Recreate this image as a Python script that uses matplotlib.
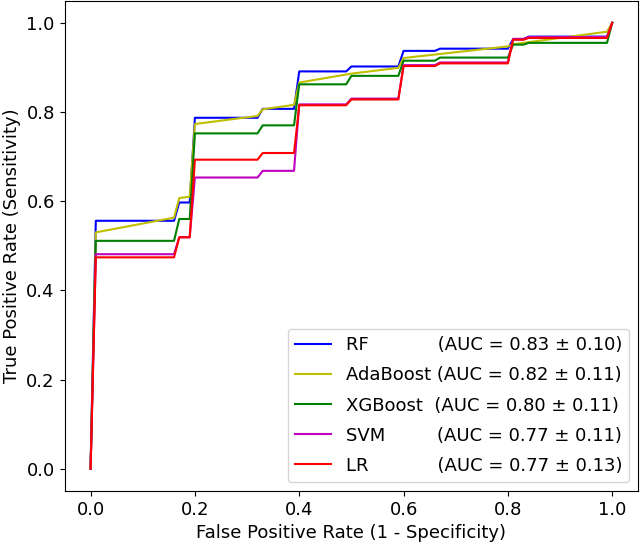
import numpy as np
import matplotlib
matplotlib.use("Agg")
import matplotlib.pyplot as plt

#%% DATA (mean ROC curves)
fpr_rf = [0, 0.01, 0.16, 0.17, 0.19, 0.2, 0.32, 0.33, 0.39, 0.4, 0.49, 0.5,
          0.59, 0.6, 0.66, 0.67, 0.8, 0.81, 0.83, 0.84, 0.99, 1.0]
tpr_rf = [0, 0.556, 0.556, 0.597, 0.597, 0.787, 0.787, 0.807, 0.807, 0.891, 0.891, 0.902,
          0.902, 0.937, 0.937, 0.942, 0.942, 0.963, 0.963, 0.969, 0.969, 1.0]

fpr_ada = [0, 0.01, 0.16, 0.17, 0.19, 0.2, 0.32, 0.33, 0.39, 0.4, 0.49, 0.5,
           0.59, 0.6, 0.8, 0.81, 0.99, 1.0]
tpr_ada = [0, 0.53, 0.563, 0.607, 0.61, 0.773, 0.791, 0.806, 0.816, 0.866, 0.884, 0.886,
           0.899, 0.921, 0.947, 0.952, 0.98, 1.0]

fpr_xgb = fpr_rf
tpr_xgb = [0, 0.511, 0.511, 0.56, 0.56, 0.752, 0.752, 0.770, 0.770, 0.862, 0.862, 0.881,
           0.881, 0.915, 0.915, 0.922, 0.922, 0.951, 0.951, 0.955, 0.955, 1.0]

fpr_svm = fpr_rf
tpr_svm = [0, 0.481, 0.481, 0.519, 0.519, 0.653, 0.653, 0.668, 0.668, 0.817, 0.817, 0.830,
           0.830, 0.905, 0.905, 0.911, 0.911, 0.964, 0.964, 0.968, 0.968, 1.0]

fpr_lr = fpr_rf
tpr_lr = [0, 0.474, 0.474, 0.519, 0.519, 0.693, 0.693, 0.708, 0.708, 0.815, 0.815, 0.828,
          0.828, 0.903, 0.903, 0.909, 0.909, 0.962, 0.962, 0.966, 0.966, 1.0]

labels = ["RF            (AUC = 0.83 \u00b1 0.10)",
          "AdaBoost (AUC = 0.82 \u00b1 0.11)",
          "XGBoost  (AUC = 0.80 \u00b1 0.11)",
          "SVM         (AUC = 0.77 \u00b1 0.11)",
          "LR            (AUC = 0.77 \u00b1 0.13)"]

#%% PLOT
plt.rcParams["font.size"] = 13
fig = plt.figure(figsize=(6.4, 5.42), dpi=100)
ax = fig.add_axes([64.5/640, 51/542, (638.3-64.5)/640, 490.5/542])

curves = [(fpr_rf, tpr_rf, 'b'), (fpr_ada, tpr_ada, 'y'), (fpr_xgb, tpr_xgb, 'g'),
          (fpr_svm, tpr_svm, 'm'), (fpr_lr, tpr_lr, 'r')]
for (x, y, c), lab in zip(curves, labels):
    ax.plot(x, y, color=c, lw=1.5, label=lab)

ax.set_xlabel('False Positive Rate (1 - Specificity)')
ax.set_ylabel('True Positive Rate (Sensitivity)')
ax.set_xticks(np.arange(0, 1.01, 0.2))
ax.set_yticks(np.arange(0, 1.01, 0.2))
ax.legend(loc='lower right', labelspacing=0.67)

fig.savefig("out.png", dpi=100)
